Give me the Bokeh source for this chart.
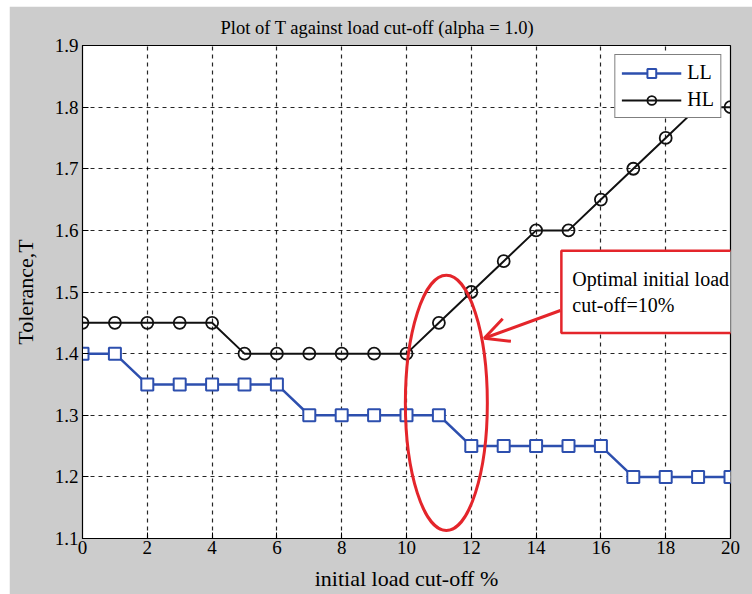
from bokeh.plotting import figure
from bokeh.models import FixedTicker, Label, Arrow, OpenHead, Legend
from bokeh.embed import file_html
from bokeh.resources import INLINE

x_vals = list(range(0, 21))
ll_vals = [1.40, 1.40, 1.35, 1.35, 1.35, 1.35, 1.35, 1.30, 1.30, 1.30, 1.30,
           1.30, 1.25, 1.25, 1.25, 1.25, 1.25, 1.20, 1.20, 1.20, 1.20]
hl_vals = [1.45, 1.45, 1.45, 1.45, 1.45, 1.40, 1.40, 1.40, 1.40, 1.40, 1.40,
           1.45, 1.50, 1.55, 1.60, 1.60, 1.65, 1.70, 1.75, 1.80, 1.80]
x_ticks = [0, 2, 4, 6, 8, 10, 12, 14, 16, 18, 20]
y_ticks = [1.1, 1.2, 1.3, 1.4, 1.5, 1.6, 1.7, 1.8, 1.9]
title_text = "Plot of T against load cut-off (alpha = 1.0)"
x_label = "initial load cut-off %"
y_label = "Tolerance,T"
note_text = "Optimal initial load\ncut-off=10%"

SERIF = "Liberation Serif"
BLUE = "#2d4fae"
RED = "#e4252b"

p = figure(width=743, height=588, x_range=(0, 20), y_range=(1.1, 1.9),
           output_backend="svg", toolbar_location=None,
           min_border_left=73, min_border_right=22, min_border_top=39, min_border_bottom=56,
           margin=(6, 0, 0, 9), title=title_text)
p.background_fill_color = "white"
p.border_fill_color = "#cccccc"
p.outline_line_color = "black"
p.outline_line_width = 1.2

p.title.text_font = SERIF
p.title.text_font_size = "18.5px"
p.title.text_font_style = "normal"
p.title.align = "left"
p.title.offset = 138
p.title.standoff = 16
p.title.text_color = "black"

for ax in (p.xaxis[0], p.yaxis[0]):
    ax.major_label_text_font = SERIF
    ax.major_label_text_font_size = "19px"
    ax.major_label_text_color = "black"
    ax.axis_label_text_font = SERIF
    ax.axis_label_text_font_size = "22px"
    ax.axis_label_text_font_style = "normal"
    ax.axis_label_text_color = "black"
    ax.major_tick_in = 6
    ax.major_tick_out = 0
    ax.minor_tick_in = 0
    ax.minor_tick_out = 0
    ax.axis_line_color = "black"
    ax.major_tick_line_color = "black"

p.xaxis.ticker = FixedTicker(ticks=x_ticks)
p.yaxis.ticker = FixedTicker(ticks=y_ticks)
p.xaxis.axis_label = x_label
p.yaxis.axis_label = y_label
p.xaxis.major_label_standoff = 2
p.yaxis.major_label_standoff = 4
p.xaxis.axis_label_standoff = 9
p.yaxis.axis_label_standoff = 14

for g in (p.xgrid[0], p.ygrid[0]):
    g.grid_line_color = "black"
    g.grid_line_alpha = 0.85
    g.grid_line_dash = "4 4"
    g.grid_line_width = 1.2
p.xgrid.ticker = FixedTicker(ticks=x_ticks)
p.ygrid.ticker = FixedTicker(ticks=y_ticks)

l1 = p.line(x_vals, ll_vals, line_color=BLUE, line_width=2.5)
s1 = p.scatter(x_vals, ll_vals, marker="square", size=12, line_color=BLUE,
               line_width=2, fill_color="white")
l2 = p.line(x_vals, hl_vals, line_color="#111111", line_width=2)
s2 = p.scatter(x_vals, hl_vals, marker="circle", size=12, line_color="#111111",
               line_width=1.8, fill_alpha=0)

legend = Legend(items=[("LL", [l1, s1]), ("HL", [l2, s2])], location="top_right")
legend.label_text_font = SERIF
legend.label_text_font_size = "20px"
legend.label_text_color = "black"
legend.border_line_color = "black"
legend.border_line_width = 1.2
legend.background_fill_color = "white"
legend.background_fill_alpha = 1
legend.glyph_width = 60
legend.glyph_height = 22
legend.spacing = 4
legend.padding = 6
legend.margin = 9
legend.label_standoff = 6
p.add_layout(legend)

p.ellipse(x=11.23, y=1.32, width=2.53, height=0.414, fill_alpha=0,
          line_color=RED, line_width=3)

p.add_layout(Arrow(end=OpenHead(size=24, line_color=RED, line_width=3),
                   x_start=14.75, y_start=1.47, x_end=12.4, y_end=1.425,
                   line_color=RED, line_width=3))

p.add_layout(Label(x=14.78, y=1.567, text=note_text,
                   text_font=SERIF, text_font_size="20px", text_color="black",
                   text_align="left", text_baseline="top",
                   background_fill_color="white", border_line_color=RED,
                   border_line_width=2.5,
                   padding=dict(left=11, right=10, top=17, bottom=17)))

open("out.html", "w").write(file_html(p, INLINE))
